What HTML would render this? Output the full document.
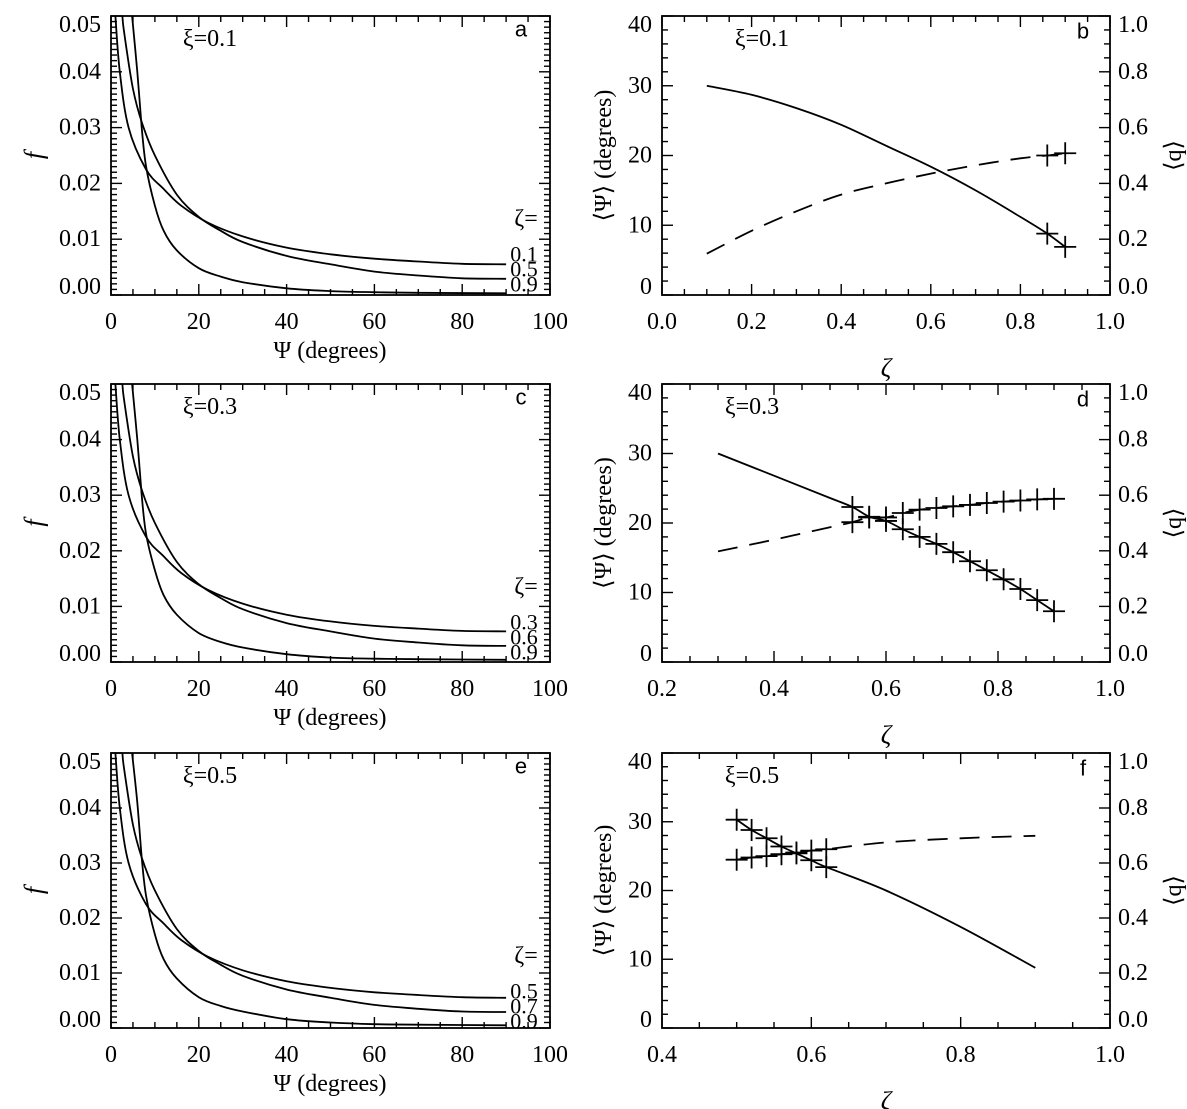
<!DOCTYPE html>
<html><head><meta charset="utf-8">
<style>
html,body{margin:0;padding:0;background:#fff;}
svg{display:block;}
text{font-family:"Liberation Serif",serif;fill:#000;}
.sans{font-family:"Liberation Sans",sans-serif;}
</style></head>
<body>
<svg id="fig" width="1187" height="1109" viewBox="0 0 1187 1109" xmlns="http://www.w3.org/2000/svg"></svg>
<script>
// ---- data ----
const psiA = [1,2,4,8,12,16,22,30,40,50,60,70,80,90];
const fA1 = [0.05,0.04,0.03,0.0225,0.019,0.016,0.013,0.0105,0.0085,0.0073,0.0065,0.006,0.0056,0.0055];
const psiB = [2.6,3,5,7,10,15,20,25,30,40,50,60,70,80,90];
const fB1 = [0.05,0.047,0.037,0.031,0.025,0.018,0.014,0.0115,0.0095,0.007,0.0055,0.0042,0.0035,0.003,0.0029];
const psiC = [4.8,6,7,8,10,12,15,20,25,30,40,50,60,70,90];
const fC1 = [0.05,0.04,0.03,0.023,0.016,0.0115,0.008,0.0048,0.0033,0.0023,0.0012,0.0007,0.0005,0.0004,0.0003];
const fC2 = [0.05,0.04,0.03,0.023,0.0165,0.012,0.0085,0.0052,0.0036,0.0026,0.0014,0.0008,0.0006,0.0005,0.0004];
const fC3 = [0.05,0.041,0.031,0.024,0.017,0.0125,0.009,0.0056,0.004,0.003,0.0016,0.001,0.0007,0.0006,0.0005];
const zetaLabels1 = ["0.1","0.5","0.9"];
const zetaLabels2 = ["0.3","0.6","0.9"];
const zetaLabels3 = ["0.5","0.7","0.9"];
const zB = [0.1,0.2,0.3,0.4,0.5,0.6,0.7,0.8,0.86,0.9];
const psiMeanB = [30,28.7,26.8,24.4,21.4,18.4,15,11.2,8.8,6.9];
const qB = [0.148,0.23,0.30,0.36,0.40,0.435,0.465,0.49,0.50,0.508];
const crossZB = [0.86,0.9];
const crossPsiB = [8.8,6.9];
const crossQB = [0.50,0.508];
const zD = [0.3,0.4,0.5,0.54,0.57,0.6,0.63,0.66,0.69,0.72,0.75,0.78,0.81,0.84,0.87,0.9];
const psiMeanD = [30,26.8,23.6,22.3,20.9,20.3,19.1,18.0,17.0,15.8,14.5,13.2,11.9,10.5,8.9,7.3];
const qD = [0.398,0.44,0.485,0.503,0.52,0.52,0.536,0.548,0.554,0.56,0.565,0.572,0.577,0.581,0.585,0.587];
const crossZD = [0.54,0.57,0.6,0.63,0.66,0.69,0.72,0.75,0.78,0.81,0.84,0.87,0.9];
const crossPsiD = [22.3,20.9,20.3,19.1,18.0,17.0,15.8,14.5,13.2,11.9,10.5,8.9,7.3];
const crossQD = [0.503,0.52,0.52,0.536,0.548,0.554,0.56,0.565,0.572,0.577,0.581,0.585,0.587];
const zF = [0.5,0.52,0.54,0.56,0.58,0.6,0.62,0.7,0.8,0.9];
const psiMeanF = [30.3,28.8,27.6,26.4,25.4,24.4,23.4,20.0,14.7,8.75];
const qF = [0.612,0.62,0.625,0.632,0.638,0.645,0.65,0.675,0.69,0.699];
const crossZF = [0.5,0.52,0.54,0.56,0.58,0.6,0.62];
const crossPsiF = [30.3,28.8,27.6,26.4,25.4,24.4,23.4];
const crossQF = [0.612,0.62,0.625,0.632,0.638,0.645,0.65];

const NS = "http://www.w3.org/2000/svg";
const svg = document.getElementById('fig');
function mk(tag, attrs, parent){const e=document.createElementNS(NS,tag);for(const k in attrs)e.setAttribute(k,attrs[k]);(parent||svg).appendChild(e);return e;}
function txt(s,x,y,size,anchor,parent,extra){const t=mk('text',Object.assign({x:x,y:y,'font-size':size,'text-anchor':anchor||'middle','dominant-baseline':'central'},extra||{}),parent);t.textContent=s;return t;}
function smooth(pts){
  let d='M'+pts[0][0].toFixed(1)+','+pts[0][1].toFixed(1);
  for(let i=0;i<pts.length-1;i++){const p0=pts[Math.max(0,i-1)],p1=pts[i],p2=pts[i+1],p3=pts[Math.min(pts.length-1,i+2)];
    const c1=[p1[0]+(p2[0]-p0[0])/6,p1[1]+(p2[1]-p0[1])/6],c2=[p2[0]-(p3[0]-p1[0])/6,p2[1]-(p3[1]-p1[1])/6];
    d+=' C'+c1[0].toFixed(1)+','+c1[1].toFixed(1)+' '+c2[0].toFixed(1)+','+c2[1].toFixed(1)+' '+p2[0].toFixed(1)+','+p2[1].toFixed(1);}
  return d;}
function frame(g,L,R,T,B){mk('rect',{x:L,y:T,width:R-L,height:B-T,fill:'none',stroke:'#000','stroke-width':1.8},g);}
function tick(g,x1,y1,x2,y2){mk('line',{x1:x1,y1:y1,x2:x2,y2:y2,stroke:'#000','stroke-width':1.4},g);}

const rows=[[16,295],[384,662],[753,1028]];
const FS=24;

function leftPanel(r, xi, letter, fs, labels){
  const [T,B]=rows[r]; const L=111,R=550;
  const g=mk('g',{});
  
  
  const xs=v=>L+v/100*(R-L), ys=v=>B-v/0.05*(B-T);
  const cid='clip'+letter; const cp=mk('clipPath',{id:cid},g); mk('rect',{x:L,y:T,width:R-L,height:B-T},cp);
  frame(g,L,R,T,B);
  for(let v=0;v<=100;v+=5){const maj=v%20===0,len=maj?11:6;tick(g,xs(v),B,xs(v),B-len);tick(g,xs(v),T,xs(v),T+len);}
  for(let i=0;i<=50;i++){const v=i*0.001,maj=i%10===0,len=maj?11:6;tick(g,L,ys(v),L+len,ys(v));tick(g,R,ys(v),R-len,ys(v));}
  for(let v=0;v<=100;v+=20){const t=txt(String(v),xs(v),B+27,FS,'middle',g);}
  for(let i=0;i<=5;i++){let y=ys(i*0.01); if(i===0)y-=8; if(i===5)y+=9;const t=txt((i*0.01).toFixed(2),L-10,y,FS,'end',g);}
  const xt=txt('Ψ   (degrees)',330,B+56,FS,'middle',g,{'xml:space':'preserve'});
  const yt=txt('f',34,(T+B)/2,26,'middle',g,{'font-style':'italic',transform:'rotate(-90 34 '+((T+B)/2)+')'});
  const xl=txt('ξ=0.'+xi,210,T+23,FS,'middle',g);
  const pl=txt(letter,521,T+13,22,'middle',g,{class:'sans'});
  const series=[[psiA,fs[0]],[psiB,fs[1]],[psiC,fs[2]]];
  series.forEach((s,k)=>{const p=mk('path',{d:smooth(s[0].map((v,i)=>[xs(v),ys(s[1][i])])),fill:'none',stroke:'#000','stroke-width':1.8,'clip-path':'url(#'+cid+')'},g);
    });
  const zl=txt('ζ=',526,T+203,24,'middle',g);
  labels.forEach((lb,k)=>{const t=txt(lb,524,T+238+k*15,22,'middle',g);});
}

function rightPanel(r, xi, letter, xmin, zs, psi, q, cz, cpsi, cq){
  const [T,B]=rows[r]; const L=662,R=1110;
  const g=mk('g',{});
  
  
  const xs=v=>L+(v-xmin)/(1-xmin)*(R-L), ys=v=>B-v/40*(B-T), yq=v=>B-v*(B-T);
  frame(g,L,R,T,B);
  for(let i=0;Math.round(xmin*100)+i*5<=100;i++){const v=xmin+i*0.05,maj=Math.round(v*100)%20===0,len=maj?11:6;tick(g,xs(v),B,xs(v),B-len);tick(g,xs(v),T,xs(v),T+len);}
  for(let v=0;v<=40;v+=2){const len=v%10===0?11:6;tick(g,L,ys(v),L+len,ys(v));}
  for(let i=0;i<=20;i++){const len=i%4===0?11:6;tick(g,R,yq(i*0.05),R-len,yq(i*0.05));}
  for(let k=Math.round(xmin*10);k<=10;k+=2){const t=txt((k/10).toFixed(1),xs(k/10),B+27,FS,'middle',g);}
  for(let v=0;v<=40;v+=10){let y=ys(v);if(v===0)y-=8;if(v===40)y+=9;const t=txt(String(v),L-10,y,FS,'end',g);}
  for(let i=0;i<=5;i++){let y=yq(i*0.2);if(i===0)y-=8;if(i===5)y+=9;const t=txt((i*0.2).toFixed(1),R+8,y,FS,'start',g);}
  const xt=txt('ζ',886,B+73,26,'middle',g,{'font-style':'italic'});
  const cy=(T+B)/2;
  const yt=txt('⟨Ψ⟩ (degrees)',604,cy,FS,'middle',g,{transform:'rotate(-90 604 '+cy+')'});
  const yt2=txt('⟨q⟩',1174,cy,FS,'middle',g,{transform:'rotate(-90 1174 '+cy+')'});
  const xl=txt('ξ=0.'+xi,(letter==='b'?762:752),T+23,FS,'middle',g);
  const pl=txt(letter,1083,T+15,22,'middle',g,{class:'sans'});
  const sp=mk('path',{d:smooth(zs.map((v,i)=>[xs(v),ys(psi[i])])),fill:'none',stroke:'#000','stroke-width':1.8},g);
  
  const qp=mk('path',{d:smooth(zs.map((v,i)=>[xs(v),yq(q[i])])),fill:'none',stroke:'#000','stroke-width':1.8,'stroke-dasharray':'20 12'},g);
  
  cz.forEach((v,i)=>{
    const m1=mk('path',{d:`M${xs(v)-11},${ys(cpsi[i])}h22M${xs(v)},${ys(cpsi[i])-11}v22`,stroke:'#000','stroke-width':1.8},g);
    
    const m2=mk('path',{d:`M${xs(v)-11},${yq(cq[i])}h22M${xs(v)},${yq(cq[i])-11}v22`,stroke:'#000','stroke-width':1.8},g);
    
  });
}

leftPanel(0,1,'a',[fA1,fB1,fC1],zetaLabels1);
leftPanel(1,3,'c',[fA1,fB1,fC2],zetaLabels2);
leftPanel(2,5,'e',[fA1,fB1,fC3],zetaLabels3);
rightPanel(0,1,'b',0.0,zB,psiMeanB,qB,crossZB,crossPsiB,crossQB);
rightPanel(1,3,'d',0.2,zD,psiMeanD,qD,crossZD,crossPsiD,crossQD);
rightPanel(2,5,'f',0.4,zF,psiMeanF,qF,crossZF,crossPsiF,crossQF);
</script>
</body></html>
